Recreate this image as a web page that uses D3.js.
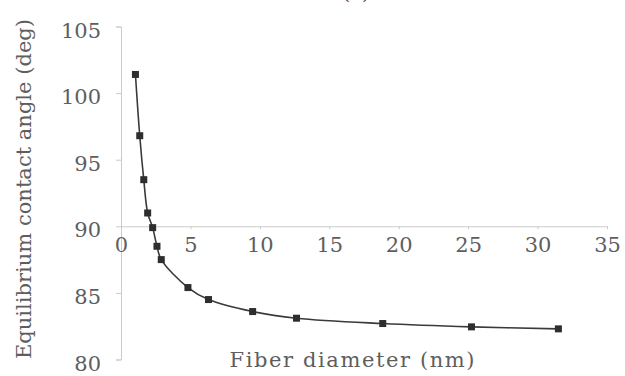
<!DOCTYPE html>
<html>
<head>
<meta charset="utf-8">
<script src="https://cdn.jsdelivr.net/npm/d3@7"></script>
<style>
  html, body { margin: 0; padding: 0; background: #fff; }
  svg { display: block; }
</style>
</head>
<body>
<svg id="chart" width="625" height="376"></svg>
<script>
// Fiber diameter (nm) and the equilibrium contact angle (deg) at each diameter
const diameters = [1.04, 1.35, 1.64, 1.92, 2.28, 2.59, 2.9, 4.82, 6.3, 9.48, 12.64, 18.85, 25.24, 31.5];
const angles = [101.4, 96.8, 93.5, 91.0, 89.9, 88.5, 87.5, 85.4, 84.5, 83.6, 83.1, 82.7, 82.45, 82.3];
const xTicks = [0, 5, 10, 15, 20, 25, 30, 35];
const yTicks = [80, 85, 90, 95, 100, 105];

const serif = "'DejaVu Serif', serif";

const svg = d3.select("#chart");

const x = d3.scaleLinear().domain([0, 35]).range([121, 607]);
const y = d3.scaleLinear().domain([80, 105]).range([359.5, 26.5]);

// Panel title, mostly cut off by the top edge
svg.append("text")
  .attr("x", 356).attr("y", -1)
  .attr("text-anchor", "middle")
  .style("font-family", serif)
  .style("font-size", "20px")
  .style("fill", "#333")
  .text("(a)");

// Vertical axis at x = 0
const yAxis = svg.append("g")
  .attr("transform", `translate(${x(0)},0)`)
  .call(d3.axisLeft(y).tickValues(yTicks).tickSize(5).tickFormat(d3.format("d")));
yAxis.select(".domain").attr("stroke", "#cbcbcb");
yAxis.selectAll(".tick line").attr("stroke", "#cbcbcb");
yAxis.selectAll(".tick text")
  .attr("x", -20).attr("dy", "0.5em")
  .style("font-family", serif)
  .style("font-size", "21px").style("fill", "#5e5e5e");

// Horizontal axis crossing at 90 deg
const xAxis = svg.append("g")
  .attr("transform", `translate(0,${y(90)})`)
  .call(d3.axisBottom(x).tickValues(xTicks).tickSize(3).tickSizeOuter(0).tickFormat(d3.format("d")));
xAxis.select(".domain").attr("stroke", "#cbcbcb");
xAxis.selectAll(".tick line").attr("stroke", "#cbcbcb");
xAxis.selectAll(".tick text")
  .attr("y", 11).attr("dy", "0.71em")
  .style("font-family", serif)
  .style("font-size", "21px").style("fill", "#5e5e5e");

const pts = diameters.map((d, i) => [d, angles[i]]);

// Smoothed curve through the measurements
svg.append("path")
  .datum(pts)
  .attr("fill", "none")
  .attr("stroke", "#3a3a3a")
  .attr("stroke-width", 1.6)
  .attr("d", d3.line().x(d => x(d[0])).y(d => y(d[1])).curve(d3.curveCatmullRom.alpha(0.5)));

// Square markers
const s = 7;
svg.append("g").selectAll("rect")
  .data(pts)
  .join("rect")
  .attr("x", d => x(d[0]) - s / 2)
  .attr("y", d => y(d[1]) - s / 2)
  .attr("width", s).attr("height", s)
  .attr("fill", "#2e2e2e");

// Axis titles
svg.append("text")
  .attr("x", 352).attr("y", 367)
  .attr("text-anchor", "middle")
  .style("font-family", serif)
  .style("fill", "#5e5e5e")
  .attr("textLength", 245)
  .attr("lengthAdjust", "spacing")
  .style("font-size", "21px")
  .text("Fiber diameter (nm)");

svg.append("text")
  .attr("transform", "translate(31,189) rotate(-90)")
  .attr("text-anchor", "middle")
  .style("font-family", serif)
  .style("fill", "#5e5e5e")
  .attr("textLength", 340)
  .attr("lengthAdjust", "spacing")
  .style("font-size", "21px")
  .text("Equilibrium contact angle (deg)");
</script>
</body>
</html>
